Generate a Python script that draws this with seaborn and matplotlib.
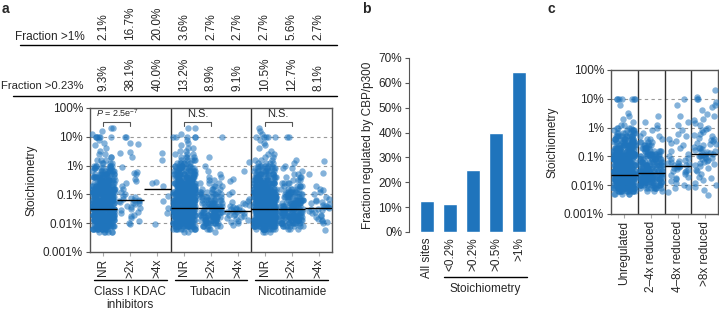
import numpy as np
import pandas as pd
import matplotlib
matplotlib.use('Agg')
import matplotlib.pyplot as plt
import matplotlib.ticker as mticker
import seaborn as sns

# Stoichiometry levels (%) used to tally the dense clouds (read as counts per level)
levels = [0.005, 0.0063, 0.008, 0.01, 0.0126, 0.016, 0.02, 0.025, 0.032, 0.04, 0.05, 0.063, 0.08,
          0.1, 0.126, 0.16, 0.2, 0.25, 0.32, 0.4, 0.5, 0.63, 0.8, 1.0, 1.26, 1.6, 2.0, 2.5, 3.2,
          4.0, 5.0, 6.3, 8.0, 10, 12.6, 16, 20]

# Panel a: stoichiometry (%) per condition
cats_a = ['NR', '>2x', '>4x', 'NR', '>2x', '>4x', 'NR', '>2x', '>4x']
groups_a = ['Class I KDAC\ninhibitors', 'Tubacin', 'Nicotinamide']

cI_nr_counts = [6, 14, 20, 24, 26, 28, 28, 28, 28, 27, 26, 25, 24, 22, 21, 20, 18, 17, 15, 13, 12, 10, 8,
                6, 4, 3, 2, 2, 1, 1, 1, 1, 1, 6, 1, 1, 2]
tub_nr_counts = [2, 10, 18, 22, 25, 27, 28, 28, 28, 27, 26, 25, 24, 23, 22, 21, 20, 19, 17, 16, 14, 12, 10,
                 9, 7, 5, 4, 3, 2, 2, 1, 1, 1, 5, 1, 0, 2]
nic_nr_counts = [3, 12, 19, 23, 26, 28, 28, 28, 28, 27, 26, 25, 24, 22, 21, 20, 19, 17, 15, 13, 11, 9, 8,
                 6, 4, 3, 2, 2, 1, 1, 1, 1, 1, 5, 1, 1, 1]
tub_2x_counts = [1, 3, 6, 9, 11, 12, 12, 12, 11, 10, 9, 8, 7, 6, 5, 4, 3, 3, 2, 2, 1, 1, 0,
                 1, 0, 0, 1, 0, 0, 0, 0, 0, 0, 1, 0, 0, 0]
nic_2x_counts = [0, 3, 8, 12, 14, 15, 15, 15, 14, 13, 12, 10, 9, 8, 7, 6, 5, 4, 3, 3, 2, 1, 2,
                 1, 1, 1, 0, 0, 0, 0, 0, 0, 0, 2, 0, 0, 0]
cI_2x = [0.0095, 0.010, 0.012, 0.015, 0.018, 0.02, 0.022, 0.025, 0.028, 0.03, 0.035, 0.038, 0.04, 0.045,
         0.05, 0.052, 0.055, 0.058, 0.06, 0.062, 0.065, 0.07, 0.075, 0.08, 0.09, 0.1, 0.12, 0.15, 0.2, 0.25,
         0.3, 0.35, 0.5, 0.55, 0.6, 0.9, 2, 2.8, 3, 5.5, 6, 10, 10]
cI_4x = [0.0095, 0.022, 0.035, 0.06, 0.09, 0.2, 0.25, 0.28, 1.6, 2.8]
tub_4x = [0.009, 0.01, 0.011, 0.012, 0.013, 0.014, 0.015, 0.016, 0.018, 0.019, 0.02, 0.021, 0.022, 0.024,
          0.025, 0.026, 0.027, 0.028, 0.03, 0.032, 0.034, 0.036, 0.038, 0.04, 0.043, 0.046, 0.05, 0.055, 0.06,
          0.07, 0.1, 0.12, 0.3, 0.35, 0.65, 1.3]
nic_4x = [0.006, 0.01, 0.011, 0.012, 0.013, 0.014, 0.016, 0.018, 0.02, 0.022, 0.024, 0.026, 0.028, 0.03,
          0.032, 0.034, 0.036, 0.038, 0.04, 0.042, 0.045, 0.05, 0.055, 0.06, 0.065, 0.07, 0.08, 0.1, 0.12,
          0.14, 0.16, 0.2, 0.5, 0.55, 1.5]
medians_a = [0.03, 0.062, 0.15, 0.035, 0.035, 0.027, 0.03, 0.032, 0.035]
frac_gt1 = [2.1, 16.7, 20.0, 3.6, 2.7, 2.7, 2.7, 5.6, 2.7]
frac_gt023 = [9.3, 38.1, 40.0, 13.2, 8.9, 9.1, 10.5, 12.7, 8.1]

# Panel b
cats_b = ['All sites', '<0.2%', '>0.2%', '>0.5%', '>1%']
frac_reg = [12.5, 11.3, 25.0, 39.8, 64.5]

# Panel c
cats_c = ['Unregulated', '2–4x reduced', '4–8x reduced', '>8x reduced']
unreg_counts = [5, 14, 20, 24, 26, 27, 27, 27, 26, 25, 24, 23, 22, 21, 20, 18, 17, 15, 14, 12, 10, 8, 6,
                4, 2, 1, 1, 1, 1, 0, 0, 1, 0, 7, 0, 0, 0]
red_2_4_counts = [0, 3, 9, 13, 15, 16, 16, 16, 15, 14, 13, 12, 11, 10, 9, 8, 7, 5, 4, 3, 2, 1, 1,
                  1, 1, 1, 0, 1, 0, 0, 0, 0, 0, 0, 0, 0, 0]
red_4_8 = [0.006, 0.008, 0.009, 0.01, 0.012, 0.014, 0.016, 0.018, 0.02, 0.022, 0.025, 0.028, 0.03, 0.032,
           0.035, 0.037, 0.04, 0.042, 0.044, 0.046, 0.048, 0.05, 0.052, 0.055, 0.058, 0.06, 0.065, 0.07, 0.075,
           0.08, 0.09, 0.1, 0.12, 0.15, 0.2, 0.25, 0.3, 0.35, 0.4, 0.5, 0.6, 0.8, 1.2, 1.6, 2.5, 6, 10]
red_8 = [0.0045, 0.007, 0.009, 0.01, 0.012, 0.015, 0.018, 0.02, 0.025, 0.03, 0.035, 0.04, 0.045, 0.05, 0.055,
         0.06, 0.065, 0.07, 0.075, 0.08, 0.085, 0.09, 0.095, 0.1, 0.105, 0.11, 0.115, 0.12, 0.125, 0.13, 0.14,
         0.15, 0.16, 0.17, 0.18, 0.19, 0.2, 0.22, 0.24, 0.26, 0.28, 0.3, 0.33, 0.36, 0.4, 0.45, 0.5, 0.55, 0.6,
         0.7, 0.8, 0.9, 1.0, 1.2, 1.5, 1.8, 2.0, 2.5, 3, 4, 5, 6, 8, 10, 10, 12, 20]
medians_c = [0.022, 0.026, 0.045, 0.12]

sns.set_style('ticks')
plt.rcParams['font.family'] = ['Liberation Sans', 'DejaVu Sans']
plt.rcParams['font.size'] = 8
plt.rcParams['mathtext.fontset'] = 'custom'
plt.rcParams['mathtext.it'] = 'Liberation Sans:italic'
plt.rcParams['mathtext.rm'] = 'Liberation Sans'

blue = '#1f74bc'
W, H = 719, 310
fig = plt.figure(figsize=(W / 100, H / 100), dpi=100)


def box(l, t, r, b):
    return [l / W, 1 - b / H, (r - l) / W, (b - t) / H]


def tally(counts):
    return np.repeat(levels, counts)


def log_axis(ax):
    ax.set_yscale('log')
    ax.set_ylim(0.001, 100)
    ticks = [0.001, 0.01, 0.1, 1, 10, 100]
    ax.yaxis.set_major_locator(mticker.FixedLocator(ticks))
    ax.yaxis.set_minor_locator(mticker.NullLocator())
    ax.set_yticklabels(['0.001%', '0.01%', '0.1%', '1%', '10%', '100%'])
    for t in ticks[1:-1]:
        ax.axhline(t, color='#999999', lw=0.8, ls=(0, (3, 3)), zorder=0)
    for s in ax.spines.values():
        s.set_color('#555555')
        s.set_linewidth(1)
    ax.tick_params(axis='y', length=3, color='#555555', labelsize=8.5, pad=2)
    ax.tick_params(axis='x', length=3, color='#aaaaaa', labelsize=8.5, rotation=90, pad=2)
    ax.set_xlabel('')
    ax.set_ylabel('Stoichiometry', fontsize=8.5)


# ---------- panel a ----------
np.random.seed(3)
series_a = [tally(cI_nr_counts), cI_2x, cI_4x, tally(tub_nr_counts), tally(tub_2x_counts), tub_4x,
            tally(nic_nr_counts), tally(nic_2x_counts), nic_4x]
df_a = pd.concat([pd.DataFrame({'pos': i, 'stoich': v}) for i, v in enumerate(series_a)])
ax_a = fig.add_axes(box(90, 108, 332, 252))
sns.stripplot(data=df_a, x='pos', y='stoich', order=list(range(9)), color=blue, jitter=0.42,
              size=4.6, alpha=0.55, linewidth=0, ax=ax_a)
log_axis(ax_a)
ax_a.set_xlim(-0.5, 8.5)
ax_a.set_xticks(range(9))
ax_a.set_xticklabels(cats_a)
for i, m in enumerate(medians_a):
    ax_a.hlines(m, i - 0.5, i + 0.5, color='black', lw=1, zorder=5)
for x in [2.5, 5.5]:
    ax_a.axvline(x, color='#333333', lw=1)

# brackets
bt = ax_a.get_xaxis_transform()
for x0, lab in [(0, r'$P$ = 2.5e$^{-7}$'), (3, 'N.S.'), (6, 'N.S.')]:
    ax_a.plot([x0, x0, x0 + 1, x0 + 1], [0.875, 0.905, 0.905, 0.875], color='#555555', lw=0.8,
              transform=bt, clip_on=False)
    ax_a.text(x0 + 0.5, 0.925, lab, transform=bt, ha='center', va='bottom',
              fontsize=6.5 if x0 == 0 else 8)

# group labels under axis
for g, lab in enumerate(groups_a):
    ax_a.plot([3 * g - 0.35, 3 * g + 2.35], [-0.195, -0.195], color='black', lw=1,
              transform=bt, clip_on=False)
    ax_a.text(3 * g + 1, -0.235, lab, transform=bt, ha='center', va='top', fontsize=8.5,
              linespacing=1.1)

# table above panel a
for i in range(9):
    ax_a.text(i, 1.475, f'{frac_gt1[i]:.1f}%', transform=bt, rotation=90, ha='center',
              va='bottom', fontsize=8.5)
    ax_a.text(i, 1.115, f'{frac_gt023[i]:.1f}%', transform=bt, rotation=90, ha='center',
              va='bottom', fontsize=8.5)
ax_a.plot([-3.1, 8.7], [1.44, 1.44], color='black', lw=1, transform=bt, clip_on=False)
ax_a.plot([-3.35, 8.7], [1.08, 1.08], color='black', lw=1, transform=bt, clip_on=False)
fig.text(85 / W, 1 - 37 / H, 'Fraction >1%', ha='right', va='center', fontsize=8.5)
fig.text(1 / W, 1 - 86 / H, 'Fraction >0.23%', ha='left', va='center', fontsize=8.1)

# ---------- panel b ----------
df_b = pd.DataFrame({'cat': cats_b, 'frac': frac_reg})
ax_b = fig.add_axes(box(409, 58, 532, 232))
sns.barplot(data=df_b, x='cat', y='frac', color=blue, saturation=1, width=0.6, ax=ax_b)
ax_b.set_xlim(-0.78, 4.57)
ax_b.set_ylim(0, 70)
ax_b.set_yticks(range(0, 80, 10))
ax_b.set_yticklabels([f'{v}%' for v in range(0, 80, 10)])
sns.despine(ax=ax_b, bottom=True)
ax_b.spines['left'].set_color('#555555')
ax_b.tick_params(axis='y', length=3, color='#555555', labelsize=8.5, pad=2)
ax_b.tick_params(axis='x', length=0, labelsize=8.5, rotation=90, pad=4)
ax_b.set_xlabel('')
ax_b.set_ylabel('Fraction regulated by CBP/p300', fontsize=8.5, labelpad=3)
btb = ax_b.get_xaxis_transform()
ax_b.plot([0.75, 4.35], [-0.26, -0.26], color='black', lw=1, transform=btb, clip_on=False)
ax_b.text(2.55, -0.295, 'Stoichiometry', transform=btb, ha='center', va='top', fontsize=8.5)

# ---------- panel c ----------
series_c = [tally(unreg_counts), tally(red_2_4_counts), red_4_8, red_8]
df_c = pd.concat([pd.DataFrame({'cat': cats_c[i], 'stoich': v}) for i, v in enumerate(series_c)])
ax_c = fig.add_axes(box(611, 70, 718, 214))
sns.stripplot(data=df_c, x='cat', y='stoich', order=cats_c, color=blue, jitter=0.42,
              size=4.6, alpha=0.55, linewidth=0, ax=ax_c)
log_axis(ax_c)
ax_c.set_xlim(-0.5, 3.5)
for i, m in enumerate(medians_c):
    ax_c.hlines(m, i - 0.5, i + 0.5, color='black', lw=1, zorder=5)
for x in [0.5, 1.5, 2.5]:
    ax_c.axvline(x, color='#333333', lw=1)

# panel letters
for x, lab in [(2, 'a'), (362, 'b'), (548, 'c')]:
    fig.text(x / W, 1 - 2 / H, lab, ha='left', va='top', fontsize=10, fontweight='bold')

fig.savefig('out.png', dpi=100)
